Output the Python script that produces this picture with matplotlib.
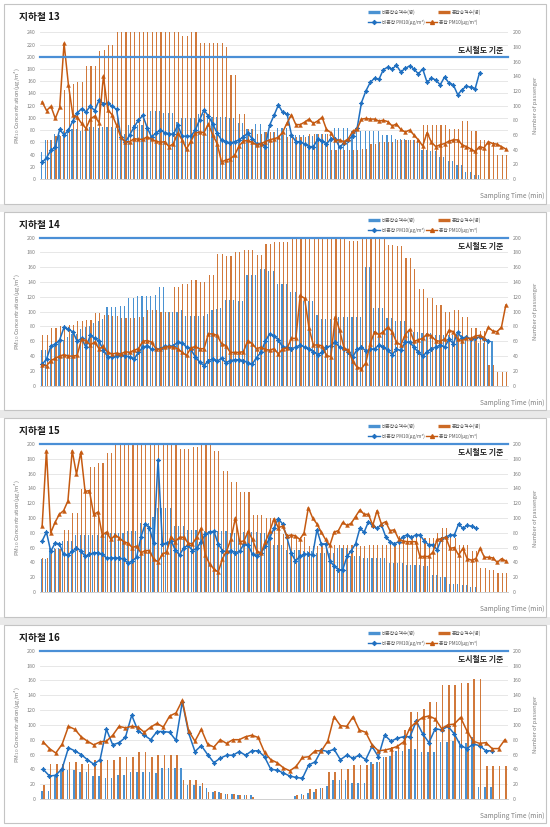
import numpy as np
import matplotlib
matplotlib.use('Agg')
import matplotlib.pyplot as plt
from matplotlib.lines import Line2D
from matplotlib.patches import Rectangle

plt.rcParams['font.family'] = ['Noto Sans CJK KR', 'DejaVu Sans']

# ---------------- data ----------------
titles = ['지하철 13', '지하철 14', '지하철 15', '지하철 16']
n_minutes = [107, 107, 109, 74]
left_max = [240, 200, 200, 200]
x_tick_labels = [list(range(0, 101, 10)), list(range(0, 101, 10)),
                 list(range(0, 101, 10)), list(range(0, 71, 10))]
standard_value = 200

# 지하철 13
pass_non_13 = [37, 53, 53, 62, 60, 65, 68, 68, 68, 65, 71, 71, 71, 69, 71, 71, 71, 69, 62, 62,
               74, 74, 74, 74, 74, 93, 93, 93, 90, 90, 90, 78, 83, 83, 83, 83, 89, 89, 89, 85,
               85, 85, 85, 83, 83, 77, 77, 68, 68, 75, 75, 64, 64, 64, 69, 69, 69, 60, 60, 60,
               60, 58, 58, 62, 62, 62, 62, 70, 70, 70, 70, 65, 65, 65, 65, 65, 65, 65, 60, 60,
               60, 55, 55, 55, 53, 53, 53, 40, 40, 38, 38, 30, 30, 24, 24, 19, 19, 10, 10, 6, 6]
pass_con_13 = [0, 53, 53, 58, 58, 121, 121, 130, 132, 132, 154, 154, 154, 175, 176, 183, 183,
               200, 200, 200, 200, 200, 200, 200, 200, 200, 200, 200, 200, 200, 200, 200,
               195, 195, 200, 200, 186, 186, 186, 186, 186, 186, 180, 142, 142, 88, 88, 68, 68,
               62, 62, 64, 64, 64, 60, 60, 57, 57, 57, 57, 57, 62, 62, 62, 62, 62, 40, 40, 40,
               40, 40, 40, 40, 41, 41, 48, 48, 50, 50, 50, 50, 53, 53, 53, 53, 53, 53, 73, 73,
               73, 73, 73, 73, 68, 68, 68, 79, 79, 65, 65, 53, 53, 51, 51, 33, 33, 33]
pm_non_13 = [27, 35, 47, 52, 81, 72, 80, 95, 108, 115, 110, 119, 112, 129, 123, 124, 119, 114, 68, 60,
             72, 85, 96, 104, 84, 69, 75, 80, 76, 74, 73, 88, 70, 70, 70, 80, 97, 113, 103, 90,
             75, 64, 61, 59, 61, 64, 69, 75, 66, 58, 58, 53, 88, 104, 121, 109, 106, 72, 61, 61,
             57, 53, 53, 65, 62, 57, 66, 66, 52, 59, 64, 71, 83, 125, 144, 158, 165, 163, 179, 183,
             180, 186, 175, 181, 185, 180, 172, 180, 158, 165, 162, 154, 167, 157, 154, 138, 146, 152,
             150, 148, 174]
pm_con_13 = [126, 112, 119, 99, 117, 222, 154, 105, 101, 91, 83, 98, 103, 92, 168, 113, 105, 88, 68, 61,
             61, 66, 65, 65, 69, 65, 62, 60, 61, 53, 58, 75, 64, 49, 62, 75, 77, 76, 90, 72,
             58, 28, 31, 33, 39, 54, 62, 63, 60, 56, 58, 61, 64, 66, 68, 77, 92, 105, 89, 89,
             93, 98, 91, 95, 101, 81, 76, 63, 64, 61, 66, 78, 82, 98, 99, 98, 98, 95, 96, 94,
             87, 90, 81, 77, 80, 72, 64, 54, 76, 60, 53, 56, 58, 62, 64, 64, 56, 53, 49, 45,
             53, 51, 61, 58, 57, 53, 49]

# 지하철 14
pass_non_14 = [48, 48, 55, 55, 62, 62, 66, 70, 70, 77, 79, 81, 85, 88, 90, 106, 106, 106, 108, 108,
               118, 118, 121, 121, 121, 121, 123, 133, 133, 100, 100, 100, 102, 94, 94, 94, 94, 94, 97, 102,
               104, 105, 116, 116, 116, 115, 115, 150, 150, 150, 158, 158, 155, 155, 138, 138, 138, 127, 127, 115,
               115, 115, 115, 95, 90, 90, 90, 80, 93, 93, 93, 93, 93, 93, 160, 160, 105, 105, 105, 92,
               92, 87, 87, 87, 72, 72, 72, 71, 71, 71, 69, 69, 69, 68, 68, 68, 68, 62, 62, 62,
               58, 58, 60, 60]
pass_con_14 = [69, 69, 78, 78, 81, 81, 82, 82, 88, 88, 89, 89, 98, 98, 96, 96, 94, 94, 91, 91,
               92, 92, 93, 93, 102, 102, 102, 100, 100, 100, 134, 134, 137, 137, 143, 143, 140, 140, 149, 149,
               178, 178, 175, 175, 180, 180, 183, 183, 183, 177, 177, 192, 192, 194, 194, 194, 194, 200, 200, 200,
               200, 200, 200, 200, 200, 200, 200, 200, 200, 200, 196, 196, 196, 200, 200, 200, 200, 200, 200, 190,
               190, 189, 189, 172, 172, 158, 131, 131, 119, 119, 109, 109, 100, 100, 102, 102, 93, 93, 78, 78,
               74, 74, 28, 28, 19, 19, 19]
pm_non_14 = [29, 36, 54, 56, 62, 79, 76, 73, 60, 64, 52, 68, 64, 60, 48, 39, 39, 40, 42, 40,
             39, 36, 45, 52, 54, 49, 49, 50, 53, 53, 54, 59, 58, 52, 49, 39, 32, 27, 34, 36,
             33, 37, 31, 34, 35, 35, 34, 31, 29, 38, 45, 60, 70, 67, 62, 52, 52, 50, 52, 55,
             52, 49, 46, 42, 45, 52, 54, 59, 52, 50, 46, 39, 49, 52, 47, 49, 50, 55, 52, 48,
             42, 49, 48, 59, 59, 52, 45, 40, 46, 50, 52, 55, 52, 63, 57, 72, 64, 66, 63, 64,
             66, 63, 61]
pm_con_14 = [28, 27, 34, 37, 40, 42, 40, 40, 41, 63, 61, 55, 59, 50, 53, 45, 43, 44, 43, 46,
             45, 48, 50, 60, 61, 59, 50, 49, 52, 53, 52, 50, 45, 41, 51, 53, 50, 50, 70, 70,
             68, 57, 54, 45, 45, 45, 46, 61, 57, 50, 52, 49, 48, 50, 43, 50, 51, 64, 64, 122,
             118, 78, 55, 55, 54, 41, 39, 93, 75, 51, 48, 33, 25, 23, 31, 57, 73, 69, 73, 79,
             73, 59, 55, 69, 76, 60, 62, 64, 70, 67, 61, 60, 63, 75, 73, 63, 61, 64, 64, 67,
             68, 65, 79, 74, 73, 79, 109]

# 지하철 15
pass_non_15 = [44, 44, 59, 59, 59, 69, 69, 69, 77, 77, 77, 77, 77, 77, 77, 80, 80, 80, 80, 80,
               82, 82, 82, 93, 93, 93, 101, 114, 114, 114, 113, 89, 89, 89, 84, 84, 84, 83, 83, 83,
               83, 83, 83, 83, 80, 80, 80, 81, 81, 81, 81, 80, 80, 80, 64, 64, 64, 57, 57, 57,
               57, 55, 55, 55, 53, 53, 53, 53, 53, 59, 59, 59, 48, 48, 48, 46, 46, 46, 46, 46,
               46, 39, 39, 39, 39, 37, 37, 37, 37, 35, 35, 23, 23, 20, 20, 11, 11, 11, 9, 9,
               7, 7]
pass_con_15 = [46, 46, 58, 58, 58, 84, 84, 107, 107, 139, 139, 169, 169, 174, 174, 188, 188, 200, 200, 200,
               200, 200, 200, 200, 200, 200, 200, 200, 200, 200, 200, 200, 193, 193, 193, 196, 196, 200, 200, 200,
               191, 191, 164, 164, 149, 149, 135, 135, 135, 104, 104, 104, 100, 100, 100, 100, 78, 78, 78, 75,
               75, 75, 62, 62, 62, 62, 62, 64, 64, 64, 64, 64, 64, 62, 62, 62, 64, 64, 64, 64,
               64, 64, 64, 76, 76, 76, 76, 76, 76, 73, 73, 73, 80, 86, 86, 73, 73, 64, 64, 64,
               56, 56, 32, 32, 30, 30, 26, 26, 26]
pm_non_15 = [69, 81, 55, 66, 65, 51, 50, 55, 59, 56, 48, 51, 53, 53, 51, 46, 46, 46, 46, 44,
             39, 42, 47, 74, 92, 86, 66, 179, 65, 66, 69, 57, 50, 60, 63, 56, 59, 68, 78, 81,
             82, 65, 56, 54, 56, 53, 55, 65, 63, 51, 48, 53, 62, 73, 86, 99, 92, 74, 53, 42,
             48, 51, 51, 50, 84, 65, 65, 42, 35, 30, 30, 48, 56, 65, 86, 81, 95, 89, 86, 91,
             75, 68, 65, 68, 75, 77, 74, 77, 77, 69, 64, 64, 57, 72, 74, 77, 77, 92, 86, 90,
             89, 86]
pm_con_15 = [89, 191, 80, 94, 105, 110, 123, 191, 159, 189, 136, 137, 105, 108, 77, 81, 71, 77, 73, 68,
             66, 60, 62, 53, 56, 56, 44, 41, 51, 54, 75, 68, 74, 74, 66, 65, 74, 86, 50, 38,
             31, 27, 45, 56, 72, 100, 68, 69, 82, 71, 55, 53, 68, 82, 99, 87, 89, 76, 77, 76,
             71, 80, 114, 100, 92, 81, 71, 63, 81, 83, 94, 90, 93, 102, 111, 105, 105, 90, 110, 92,
             95, 83, 84, 72, 69, 68, 68, 68, 48, 48, 48, 54, 71, 72, 74, 59, 60, 50, 59, 45,
             43, 45, 59, 47, 47, 46, 40, 45, 42]

# 지하철 16
pass_non_16 = [11, 11, 32, 41, 39, 39, 37, 37, 31, 31, 28, 28, 33, 33, 37, 37, 36, 36, 35, 42,
               42, 42, 42, 19, 19, 18, 15, 10, 9, 7, 7, 5, 5, 5, 0, 0, 0, 0, 0, 0,
               4, 7, 8, 10, 15, 17, 26, 26, 26, 22, 22, 22, 50, 50, 57, 58, 65, 65, 68, 68,
               63, 63, 63, 77, 77, 78, 78, 75, 84, 16, 16, 16]
pass_con_16 = [19, 47, 47, 47, 50, 50, 47, 47, 53, 53, 53, 53, 57, 57, 56, 64, 64, 57, 59, 59,
               59, 59, 25, 25, 25, 22, 10, 11, 8, 7, 7, 5, 5, 3, 0, 0, 0, 0, 0, 0,
               5, 6, 13, 13, 15, 37, 37, 41, 41, 46, 46, 46, 47, 50, 57, 70, 70, 93, 118, 118,
               122, 131, 131, 154, 154, 154, 157, 157, 162, 162, 45, 45, 45, 45]
pm_non_16 = [40, 31, 32, 41, 69, 65, 60, 53, 47, 53, 94, 73, 76, 83, 113, 92, 86, 80, 91, 91,
             90, 79, 131, 89, 64, 72, 60, 49, 55, 59, 59, 64, 59, 65, 65, 57, 40, 39, 35, 31,
             29, 28, 46, 50, 66, 64, 67, 53, 59, 55, 59, 53, 71, 57, 86, 78, 82, 84, 84, 105,
             88, 76, 95, 93, 98, 88, 72, 68, 74, 72, 65, 65]
pm_con_16 = [77, 68, 62, 74, 98, 94, 84, 78, 73, 77, 78, 86, 98, 96, 98, 97, 90, 97, 102, 97,
             112, 116, 133, 92, 78, 94, 74, 70, 80, 75, 80, 80, 84, 86, 83, 63, 53, 49, 42, 38,
             44, 56, 57, 65, 65, 78, 111, 99, 98, 111, 93, 90, 73, 65, 66, 68, 71, 77, 96, 104,
             110, 112, 108, 95, 100, 101, 110, 92, 78, 75, 76, 68, 68, 80]

pass_non = [pass_non_13, pass_non_14, pass_non_15, pass_non_16]
pass_con = [pass_con_13, pass_con_14, pass_con_15, pass_con_16]
pm_non = [pm_non_13, pm_non_14, pm_non_15, pm_non_16]
pm_con = [pm_con_13, pm_con_14, pm_con_15, pm_con_16]

legend_labels = ['비혼잡승객수(명)', '혼잡승객수(명)', '비혼잡 PM10(μg/m³)', '혼잡 PM10(μg/m³)']

# ---------------- style / layout ----------------
W, H = 550, 827
C_BLUE_BAR = '#4a92d2'
C_ORG_BAR = '#cc6a25'
C_BLUE = '#1f6fc0'
C_ORG = '#c55a11'
C_STD = '#4a8fd6'
GRAY = '#7f7f7f'
GRID = '#e3e3e3'

box_tops = [4, 212, 418, 625]
box_bots = [204, 410, 617, 823]
ax_tops = [32.3, 237.7, 444.0, 650.7]
ax_bots = [179.0, 385.7, 592.0, 799.0]
AX_L, AX_R = 40, 508

fig = plt.figure(figsize=(W / 100, H / 100), dpi=100)
fig.patch.set_facecolor('white')


def fx(px):
    return px / W


def fy(py):
    return 1 - py / H


# separator bands and panel boxes
for i in range(4):
    if i < 3:
        fig.add_artist(Rectangle((0, fy(box_tops[i + 1])), 1, (box_tops[i + 1] - box_bots[i]) / H,
                                 transform=fig.transFigure, facecolor='#e9e9e9',
                                 edgecolor='none', zorder=-10))
    fig.add_artist(Rectangle((fx(4), fy(box_bots[i])), (546 - 4) / W, (box_bots[i] - box_tops[i]) / H,
                             transform=fig.transFigure, facecolor='white',
                             edgecolor='#c4c4c4', linewidth=0.8, zorder=-9))

for i in range(4):
    n = n_minutes[i]
    top, bot = ax_tops[i], ax_bots[i]
    rect = [fx(AX_L), fy(bot), (AX_R - AX_L) / W, (bot - top) / H]

    ax = fig.add_axes(rect)           # left scale, grid
    ax2 = ax.twinx()                  # right scale, bars
    ax3 = ax.twinx()                  # left scale, lines
    ax.set_zorder(0)
    ax2.set_zorder(1)
    ax3.set_zorder(2)
    for a in (ax, ax2, ax3):
        a.patch.set_visible(False)
        a.set_xlim(-0.5, n - 0.5)
        for s in a.spines.values():
            s.set_visible(False)

    lm = left_max[i]
    ax.set_ylim(0, lm)
    ax3.set_ylim(0, lm)
    ax2.set_ylim(0, 200)
    ax.set_yticks(np.arange(0, lm + 1, 20))
    ax2.set_yticks(np.arange(0, 201, 20))
    ax3.set_yticks([])
    ax.grid(axis='y', color=GRID, linewidth=0.6)
    ax.spines['bottom'].set_visible(True)
    ax.spines['bottom'].set_color('#d0d0d0')
    ax.spines['bottom'].set_linewidth(0.7)
    ax.set_xticks(x_tick_labels[i])
    ax.tick_params(axis='both', length=0, labelsize=3.8, labelcolor=GRAY)
    ax.tick_params(axis='x', pad=4)
    ax.tick_params(axis='y', pad=3)
    ax2.tick_params(axis='y', length=0, labelsize=3.8, labelcolor=GRAY, pad=3.5)
    ax2.set_xticks([])
    ax3.set_xticks([])

    # bars
    xb = np.arange(len(pass_non[i]))
    ax2.bar(xb - 0.17, pass_non[i], width=0.26, color=C_BLUE_BAR, linewidth=0)
    xo = np.arange(len(pass_con[i]))
    ax2.bar(xo + 0.17, pass_con[i], width=0.26, color=C_ORG_BAR, linewidth=0, alpha=0.9)

    # lines
    ax3.plot(np.arange(len(pm_non[i])), pm_non[i], color=C_BLUE, linewidth=1.1,
             marker=(4, 1, 0), markersize=3.4, markeredgewidth=0.5, clip_on=False)
    ax3.plot(np.arange(len(pm_con[i])), pm_con[i], color=C_ORG, linewidth=1.1,
             marker='^', markersize=2.8, markeredgewidth=0.3, clip_on=False)

    # standard line
    ax3.axhline(standard_value, color=C_STD, linewidth=1.6, zorder=5, clip_on=False)
    std_y = top + (1 - standard_value / lm) * (bot - top)
    ty = std_y - 6.5 if i == 0 else std_y + 8.5
    fig.text(fx(503), fy(ty), '도시철도 기준', ha='right', va='center',
             fontsize=5.7, fontweight='bold', color='#262626')

    # titles and labels
    fig.text(fx(19), fy(box_tops[i] + 13), titles[i], ha='left', va='center',
             fontsize=7, fontweight='bold', color='#1a1a1a')
    cy = (top + bot) / 2
    fig.text(fx(17), fy(cy), r'PM$_{10}$ Concentration(μg/m³)', rotation=90,
             ha='center', va='center', fontsize=4.2, color=GRAY)
    fig.text(fx(536), fy(cy), 'Number of passenger', rotation=90,
             ha='center', va='center', fontsize=4.2, color=GRAY)
    fig.text(fx(544), fy(bot + 17), 'Sampling Time (min)', ha='right', va='center',
             fontsize=4.8, color=GRAY)

    # legend (two rows, drawn as in the source)
    r1 = fy(box_tops[i] + 8)
    r2 = fy(box_tops[i] + 18)
    fig.add_artist(Line2D([fx(368), fx(380)], [r1, r1], transform=fig.transFigure,
                          color=C_BLUE_BAR, linewidth=2.4, solid_capstyle='butt'))
    fig.text(fx(382), r1, legend_labels[0], ha='left', va='center', fontsize=3.4, color='#595959')
    fig.add_artist(Line2D([fx(438), fx(450)], [r1, r1], transform=fig.transFigure,
                          color=C_ORG_BAR, linewidth=2.4, solid_capstyle='butt'))
    fig.text(fx(452), r1, legend_labels[1], ha='left', va='center', fontsize=3.4, color='#595959')
    fig.add_artist(Line2D([fx(368), fx(380)], [r2, r2], transform=fig.transFigure,
                          color=C_BLUE, linewidth=1.0))
    fig.add_artist(Line2D([fx(374)], [r2], transform=fig.transFigure, color=C_BLUE,
                          marker=(4, 1, 0), markersize=3.2, linestyle='none'))
    fig.text(fx(382), r2, legend_labels[2], ha='left', va='center', fontsize=3.4, color='#595959')
    fig.add_artist(Line2D([fx(426), fx(437)], [r2, r2], transform=fig.transFigure,
                          color=C_ORG, linewidth=1.0))
    fig.add_artist(Line2D([fx(431.5)], [r2], transform=fig.transFigure, color=C_ORG,
                          marker='^', markersize=2.8, linestyle='none'))
    fig.text(fx(439), r2, legend_labels[3], ha='left', va='center', fontsize=3.4, color='#595959')

fig.savefig('out.png', dpi=100, facecolor='white')
